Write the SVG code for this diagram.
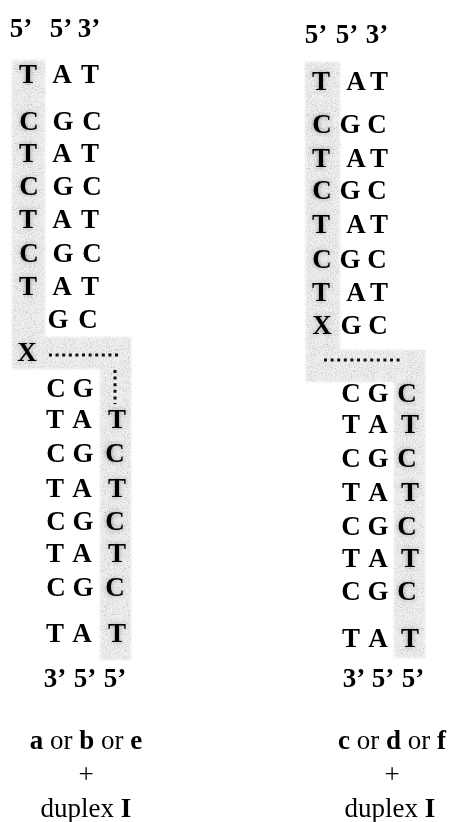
<svg xmlns="http://www.w3.org/2000/svg" width="451" height="822" viewBox="0 0 451 822">
<style>
.t{font-family:"Liberation Serif","Times New Roman",serif;font-weight:bold;font-size:27px;fill:#000;text-anchor:middle}
.f{font-family:"Liberation Serif","Times New Roman",serif;font-size:27px;fill:#000;text-anchor:middle}
.b{font-weight:bold}
.h{font-family:"Liberation Serif","Times New Roman",serif;font-weight:bold;font-size:27px;fill:#555;text-anchor:middle;filter:url(#halo)}
.hd{fill:#222}
.shade{fill:#efefef;filter:url(#stip)}
.dots{fill:none;stroke:#111;stroke-width:3;stroke-dasharray:3 3.6}
</style>
<defs>
<filter id="stip" x="-5%" y="-5%" width="110%" height="110%">
<feTurbulence type="fractalNoise" baseFrequency="0.95" numOctaves="2" seed="4" result="n"/>
<feColorMatrix in="n" type="matrix" values="0 0 0 0 0.5 0 0 0 0 0.5 0 0 0 0 0.5 2.6 0 0 0 -1.25" result="d"/>
<feGaussianBlur in="SourceGraphic" stdDeviation="1.2" result="soft"/>
<feComposite in="d" in2="soft" operator="in" result="dd"/>
<feMerge><feMergeNode in="soft"/><feMergeNode in="dd"/></feMerge>
</filter>
<filter id="halo" x="-50%" y="-50%" width="200%" height="200%">
<feGaussianBlur stdDeviation="2.4"/>
</filter>
</defs>
<rect width="451" height="822" fill="#fff"/>

<g id="shading">
<polygon class="shade" points="12,60 45,60 45,337 131,337 131,660 100,660 100,369 12,369"/>
<polygon class="shade" points="305,62 340,62 340,350 425,350 425,658 394,658 394,382 306,382"/>
</g>

<g id="halos" opacity="0.5">
<text class="h" x="28" y="83">T</text><text class="h" x="29" y="130">C</text><text class="h" x="28" y="162">T</text><text class="h" x="29" y="195">C</text><text class="h" x="28" y="228">T</text><text class="h" x="29" y="262">C</text><text class="h" x="28" y="295">T</text><text class="h" x="27" y="361">X</text>
<text class="h" x="117" y="428">T</text><text class="h hd" x="115" y="462">C</text><text class="h" x="117" y="497">T</text><text class="h hd" x="115" y="530">C</text><text class="h" x="117" y="562">T</text><text class="h" x="115" y="596">C</text><text class="h" x="117" y="642">T</text>
<text class="h" x="321" y="90">T</text><text class="h hd" x="322" y="133">C</text><text class="h hd" x="321" y="167">T</text><text class="h hd" x="322" y="199">C</text><text class="h" x="321" y="233">T</text><text class="h" x="322" y="268">C</text><text class="h" x="321" y="301">T</text><text class="h" x="322" y="334">X</text>
<text class="h" x="407" y="402">C</text><text class="h" x="410" y="433">T</text><text class="h" x="407" y="467">C</text><text class="h" x="410" y="501">T</text><text class="h" x="407" y="535">C</text><text class="h" x="410" y="567">T</text><text class="h" x="407" y="600">C</text><text class="h" x="410" y="647">T</text>
</g>

<g id="connectors">
<line class="dots" x1="49" y1="355" x2="118" y2="355"/>
<line class="dots" x1="115" y1="370" x2="115" y2="404" stroke-dasharray="2 2.5" stroke-width="2.5"/>
<line class="dots" x1="324" y1="360" x2="403" y2="360"/>
</g>

<g id="left-panel">
<g id="left-header"><text class="t" x="21" y="37">5’</text><text class="t" x="61" y="37">5’</text><text class="t" x="89" y="37">3’</text></g>
<g id="left-r1"><text class="t" x="28" y="83">T</text><text class="t" x="62" y="83">A</text><text class="t" x="90" y="83">T</text></g>
<g id="left-r2"><text class="t" x="29" y="130">C</text><text class="t" x="63" y="130">G</text><text class="t" x="92" y="130">C</text></g>
<g id="left-r3"><text class="t" x="28" y="162">T</text><text class="t" x="62" y="162">A</text><text class="t" x="90" y="162">T</text></g>
<g id="left-r4"><text class="t" x="29" y="195">C</text><text class="t" x="63" y="195">G</text><text class="t" x="92" y="195">C</text></g>
<g id="left-r5"><text class="t" x="28" y="228">T</text><text class="t" x="62" y="228">A</text><text class="t" x="90" y="228">T</text></g>
<g id="left-r6"><text class="t" x="29" y="262">C</text><text class="t" x="63" y="262">G</text><text class="t" x="92" y="262">C</text></g>
<g id="left-r7"><text class="t" x="28" y="295">T</text><text class="t" x="62" y="295">A</text><text class="t" x="90" y="295">T</text></g>
<g id="left-r8"><text class="t" x="58" y="328">G</text><text class="t" x="88" y="328">C</text></g>
<g id="left-x"><text class="t" x="27" y="361">X</text></g>
<g id="left-r9"><text class="t" x="56" y="397">C</text><text class="t" x="83" y="397">G</text></g>
<g id="left-r10"><text class="t" x="55" y="428">T</text><text class="t" x="82" y="428">A</text><text class="t" x="117" y="428">T</text></g>
<g id="left-r11"><text class="t" x="56" y="462">C</text><text class="t" x="83" y="462">G</text><text class="t" x="115" y="462">C</text></g>
<g id="left-r12"><text class="t" x="55" y="497">T</text><text class="t" x="82" y="497">A</text><text class="t" x="117" y="497">T</text></g>
<g id="left-r13"><text class="t" x="56" y="530">C</text><text class="t" x="83" y="530">G</text><text class="t" x="115" y="530">C</text></g>
<g id="left-r14"><text class="t" x="55" y="562">T</text><text class="t" x="82" y="562">A</text><text class="t" x="117" y="562">T</text></g>
<g id="left-r15"><text class="t" x="56" y="596">C</text><text class="t" x="83" y="596">G</text><text class="t" x="115" y="596">C</text></g>
<g id="left-r16"><text class="t" x="55" y="642">T</text><text class="t" x="82" y="642">A</text><text class="t" x="117" y="642">T</text></g>
<g id="left-footer"><text class="t" x="55" y="687">3’</text><text class="t" x="85" y="687">5’</text><text class="t" x="115" y="687">5’</text></g>
<g id="left-caption">
<text class="f" x="86" y="749"><tspan class="b">a</tspan> or <tspan class="b">b</tspan> or <tspan class="b">e</tspan></text>
<text class="f" x="86" y="783">+</text>
<text class="f" x="86" y="817">duplex <tspan class="b">I</tspan></text>
</g>
</g>

<g id="right-panel">
<g id="right-header"><text class="t" x="316" y="43">5’</text><text class="t" x="347" y="43">5’</text><text class="t" x="377" y="43">3’</text></g>
<g id="right-r1"><text class="t" x="321" y="90">T</text><text class="t" x="356" y="90">A</text><text class="t" x="379" y="90">T</text></g>
<g id="right-r2"><text class="t" x="322" y="133">C</text><text class="t" x="350" y="133">G</text><text class="t" x="377" y="133">C</text></g>
<g id="right-r3"><text class="t" x="321" y="167">T</text><text class="t" x="356" y="167">A</text><text class="t" x="379" y="167">T</text></g>
<g id="right-r4"><text class="t" x="322" y="199">C</text><text class="t" x="350" y="199">G</text><text class="t" x="377" y="199">C</text></g>
<g id="right-r5"><text class="t" x="321" y="233">T</text><text class="t" x="356" y="233">A</text><text class="t" x="379" y="233">T</text></g>
<g id="right-r6"><text class="t" x="322" y="268">C</text><text class="t" x="350" y="268">G</text><text class="t" x="377" y="268">C</text></g>
<g id="right-r7"><text class="t" x="321" y="301">T</text><text class="t" x="356" y="301">A</text><text class="t" x="379" y="301">T</text></g>
<g id="right-r8"><text class="t" x="322" y="334">X</text><text class="t" x="351" y="334">G</text><text class="t" x="378" y="334">C</text></g>
<g id="right-r9"><text class="t" x="351" y="402">C</text><text class="t" x="378" y="402">G</text><text class="t" x="407" y="402">C</text></g>
<g id="right-r10"><text class="t" x="351" y="433">T</text><text class="t" x="378" y="433">A</text><text class="t" x="410" y="433">T</text></g>
<g id="right-r11"><text class="t" x="351" y="467">C</text><text class="t" x="378" y="467">G</text><text class="t" x="407" y="467">C</text></g>
<g id="right-r12"><text class="t" x="351" y="501">T</text><text class="t" x="378" y="501">A</text><text class="t" x="410" y="501">T</text></g>
<g id="right-r13"><text class="t" x="351" y="535">C</text><text class="t" x="378" y="535">G</text><text class="t" x="407" y="535">C</text></g>
<g id="right-r14"><text class="t" x="351" y="567">T</text><text class="t" x="378" y="567">A</text><text class="t" x="410" y="567">T</text></g>
<g id="right-r15"><text class="t" x="351" y="600">C</text><text class="t" x="378" y="600">G</text><text class="t" x="407" y="600">C</text></g>
<g id="right-r16"><text class="t" x="351" y="647">T</text><text class="t" x="378" y="647">A</text><text class="t" x="410" y="647">T</text></g>
<g id="right-footer"><text class="t" x="354" y="687">3’</text><text class="t" x="383" y="687">5’</text><text class="t" x="413" y="687">5’</text></g>
<g id="right-caption">
<text class="f" x="392" y="749"><tspan class="b">c</tspan> or <tspan class="b">d</tspan> or <tspan class="b">f</tspan></text>
<text class="f" x="392" y="783">+</text>
<text class="f" x="390" y="817">duplex <tspan class="b">I</tspan></text>
</g>
</g>
</svg>
